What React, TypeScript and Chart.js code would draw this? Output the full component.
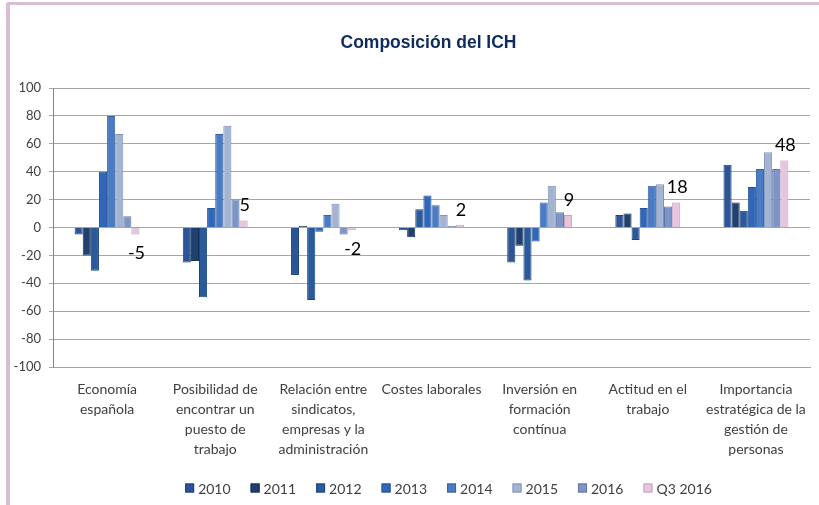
import React, { useEffect, useRef } from "react";
import { Chart, registerables } from "chart.js";

Chart.register(...registerables);

const categories: string[][] = [
  ["Economía", "española"],
  ["Posibilidad de", "encontrar un", "puesto de", "trabajo"],
  ["Relación entre", "sindicatos,", "empresas y la", "administración"],
  ["Costes laborales"],
  ["Inversión en", "formación", "contínua"],
  ["Actitud en el", "trabajo"],
  ["Importancia", "estratégica de la", "gestión de", "personas"],
];

const seriesNames = ["2010", "2011", "2012", "2013", "2014", "2015", "2016", "Q3 2016"];

const v2010 = [-5, -25, -34, -2, -25, 9, 45];
const v2011 = [-20, -24, 1, -7, -13, 10, 18];
const v2012 = [-31, -50, -52, 13, -38, -9, 12];
const v2013 = [40, 14, -3, 23, -10, 14, 29];
const v2014 = [80, 67, 9, 16, 18, 30, 42];
const v2015 = [67, 73, 17, 9, 30, 31, 54];
const v2016 = [8, 20, -5, 1, 11, 15, 42];
const vQ3 = [-5, 5, -2, 2, 9, 18, 48];

const seriesValues = [v2010, v2011, v2012, v2013, v2014, v2015, v2016, vQ3];

const fillColors = ["#2C5597", "#20406F", "#2B5A9C", "#2F67BA", "#4A7BC5", "#A3B4D3", "#7D95C6", "#E6C6DE"];
const edgeColors = ["#1F4275", "#152F55", "#1F4679", "#24528F", "#3962A0", "#8293B3", "#6075A3", "#C8A0BF"];

const yTickMin = -100;
const yTickMax = 100;
const yTickStep = 20;

const FONT = "Lato, 'Liberation Sans', sans-serif";

const titlePlugin = {
  id: "customTitle",
  afterDraw(chart: any) {
    const { ctx, chartArea } = chart;
    ctx.save();
    ctx.font = `bold 17.5px 'Liberation Sans', Arial, sans-serif`;
    ctx.fillStyle = "#0F2B5E";
    ctx.textAlign = "center";
    ctx.textBaseline = "middle";
    ctx.fillText("Composición del ICH", (chartArea.left + chartArea.right) / 2 - 3, 43);
    ctx.restore();
  },
};

const legendPlugin = {
  id: "customLegend",
  afterDraw(chart: any) {
    const { ctx, chartArea } = chart;
    ctx.save();
    ctx.font = `14px ${FONT}`;
    const box = 9;
    const gap = 4;
    const spacing = 20;
    const items = chart.data.datasets.map((d: any) => ({
      label: d.label,
      color: d.backgroundColor,
      edge: d.borderColor,
      w: box + gap + ctx.measureText(d.label).width,
    }));
    const total = items.reduce((s: number, it: any) => s + it.w, 0) + spacing * (items.length - 1);
    let x = (chartArea.left + chartArea.right) / 2 - total / 2 + 17;
    const y = 488;
    ctx.textBaseline = "middle";
    ctx.textAlign = "left";
    items.forEach((it: any) => {
      ctx.fillStyle = it.color;
      ctx.fillRect(x, y - box / 2, box, box);
      ctx.strokeStyle = it.edge;
      ctx.lineWidth = 1;
      ctx.strokeRect(x + 0.5, y - box / 2 + 0.5, box - 1, box - 1);
      ctx.fillStyle = "#404040";
      ctx.fillText(it.label, x + box + gap, y + 1);
      x += it.w + spacing;
    });
    ctx.restore();
  },
};

const labelPlugin = {
  id: "q3Labels",
  afterDatasetsDraw(chart: any) {
    const { ctx } = chart;
    const idx = chart.data.datasets.length - 1;
    const meta = chart.getDatasetMeta(idx);
    const data = chart.data.datasets[idx].data;
    ctx.save();
    ctx.font = `18px ${FONT}`;
    ctx.fillStyle = "#000";
    ctx.textAlign = "center";
    meta.data.forEach((bar: any, i: number) => {
      const v = data[i];
      if (v >= 0) {
        ctx.textBaseline = "bottom";
        ctx.fillText(String(v), bar.x + 1, bar.y - 6);
      } else {
        ctx.textBaseline = "top";
        ctx.fillText(String(v), bar.x + 1, bar.y + 10);
      }
    });
    ctx.restore();
  },
};

export default function App() {
  const canvasRef = useRef<HTMLCanvasElement | null>(null);

  useEffect(() => {
    if (!canvasRef.current) return;
    const chart = new Chart(canvasRef.current, {
      type: "bar",
      data: {
        labels: categories,
        datasets: seriesNames.map((name, i) => ({
          label: name,
          data: seriesValues[i],
          backgroundColor: fillColors[i],
          borderColor: edgeColors[i],
          borderWidth: 1,
          categoryPercentage: 0.6,
          barPercentage: 1.0,
        })),
      },
      options: {
        responsive: false,
        animation: false,
        devicePixelRatio: 1,
        layout: { padding: { left: 0, right: 9, top: 88, bottom: 0 } },
        plugins: {
          legend: { display: false },
          title: { display: false },
          tooltip: { enabled: false },
        },
        scales: {
          x: {
            grid: { display: false, drawTicks: false },
            border: { display: true, color: "#A6A6A6" },
            ticks: {
              autoSkip: false,
              maxRotation: 0,
              minRotation: 0,
              padding: 12,
              color: "#404040",
              font: { family: FONT, size: 14, lineHeight: 1.43 },
            },
            afterFit(scale: any) {
              scale.height = 138;
            },
          },
          y: {
            min: yTickMin,
            max: yTickMax,
            ticks: {
              stepSize: yTickStep,
              padding: 8,
              color: "#404040",
              font: { family: FONT, size: 13 },
            },
            grid: { color: "#A6A6A6", tickLength: 4, drawTicks: true },
            border: { display: true, color: "#868686" },
            afterFit(scale: any) {
              scale.width = 53;
            },
          },
        },
      },
      plugins: [titlePlugin, legendPlugin, labelPlugin],
    });
    return () => chart.destroy();
  }, []);

  return (
    <div style={{ position: "fixed", left: 0, top: 0, width: 819, height: 505, background: "#fff", overflow: "hidden" }}>
      <div
        style={{
          position: "absolute",
          left: 6,
          top: 2,
          width: 900,
          height: 600,
          borderLeft: "4px solid #D9BDD5",
          borderTop: "3px solid #D9BDD5",
          borderTopLeftRadius: 3,
        }}
      />
      <canvas ref={canvasRef} width={819} height={505} style={{ position: "absolute", left: 0, top: 0, width: 819, height: 505 }} />
    </div>
  );
}
